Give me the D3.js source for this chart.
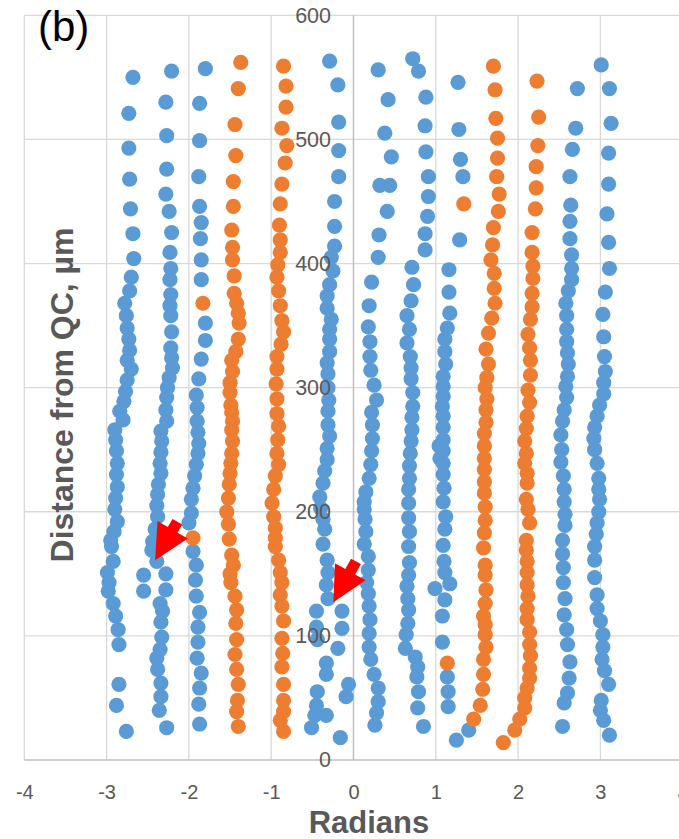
<!DOCTYPE html>
<html>
<head>
<meta charset="utf-8">
<script src="https://cdn.jsdelivr.net/npm/d3@7"></script>
<style>
  html, body { margin: 0; padding: 0; background: #fff; }
  svg { display: block; }
  text { font-family: "Liberation Sans", Arial, sans-serif; }
</style>
</head>
<body>
<svg id="chart" width="679" height="839"></svg>
<script>
// ---- data: [radians, distance (µm)] per track ----
const blueTrack1 = [[-2.68,550],[-2.73,521],[-2.73,493],[-2.72,468],[-2.71,444],[-2.68,424],[-2.67,404],[-2.70,389],
  [-2.72,378],[-2.78,368],[-2.76,358],[-2.75,348],[-2.73,339],[-2.72,330],[-2.75,322],[-2.70,315],[-2.75,306],[-2.77,297],
  [-2.79,289],[-2.84,281],[-2.80,274],[-2.90,266],[-2.89,258],[-2.88,249],[-2.87,239],[-2.88,230],[-2.87,220],[-2.89,211],
  [-2.90,202],[-2.87,192],[-2.91,184],[-2.95,177],[-2.94,172],[-2.92,160],[-2.99,151],[-2.97,143],[-2.98,136],[-2.92,126],
  [-2.89,116],[-2.86,105],[-2.85,93],[-2.85,61],[-2.88,44],[-2.76,23],[-2.55,149],[-2.55,136]];
const blueTrack2 = [[-2.21,555],[-2.28,530],[-2.27,503],[-2.27,476],[-2.28,456],[-2.24,442],[-2.21,425],[-2.23,409],
  [-2.22,396],[-2.23,387],[-2.22,375],[-2.23,366],[-2.22,358],[-2.21,345],[-2.22,332],[-2.21,324],[-2.20,316],[-2.24,308],
  [-2.26,300],[-2.27,292],[-2.28,282],[-2.27,273],[-2.34,265],[-2.33,257],[-2.34,248],[-2.35,239],[-2.34,231],[-2.37,222],
  [-2.38,214],[-2.39,205],[-2.38,196],[-2.41,186],[-2.44,176],[-2.45,169],[-2.39,160],[-2.28,150],[-2.28,137],[-2.35,126],
  [-2.32,120],[-2.34,111],[-2.33,99],[-2.35,89],[-2.39,82],[-2.38,73],[-2.34,62],[-2.34,51],[-2.36,40],[-2.27,26]];
const blueTrack3 = [[-1.80,557],[-1.87,529],[-1.87,499],[-1.88,470],[-1.87,446],[-1.85,433],[-1.86,420],[-1.85,403],
  [-1.85,387],[-1.80,352],[-1.80,338],[-1.85,323],[-1.88,307],[-1.91,294],[-1.90,284],[-1.90,273],[-1.89,264],[-1.88,255],
  [-1.89,247],[-1.91,238],[-1.93,229],[-1.95,219],[-1.97,210],[-1.97,199],[-2.00,191],[-1.95,168],[-1.91,157],[-1.92,145],
  [-1.91,132],[-1.87,119],[-1.89,107],[-1.89,95],[-1.90,82],[-1.85,70],[-1.87,58],[-1.88,45],[-1.87,29]];
const blueTrack4 = [[-0.29,563],[-0.19,544],[-0.18,514],[-0.18,491],[-0.18,470],[-0.23,450],[-0.23,430],[-0.23,414],
  [-0.27,405],[-0.25,394],[-0.29,383],[-0.32,374],[-0.32,364],[-0.27,355],[-0.29,347],[-0.29,339],[-0.29,329],[-0.32,320],
  [-0.31,311],[-0.31,300],[-0.30,290],[-0.31,281],[-0.31,270],[-0.29,261],[-0.32,251],[-0.32,242],[-0.35,233],[-0.37,223],
  [-0.41,212],[-0.40,203],[-0.37,194],[-0.35,186],[-0.37,174],[-0.32,161],[-0.31,151],[-0.33,141],[-0.31,130],
  [-0.45,120],[-0.14,120],[-0.14,106],[-0.45,107],[-0.44,97],[-0.19,90],[-0.33,78],[-0.33,69],[-0.06,61],[-0.09,51],
  [-0.44,55],[-0.45,44],[-0.47,36],[-0.33,36],[-0.51,26],[-0.16,18]];
const blueTrack5 = [[0.30,556],[0.42,532],[0.38,505],[0.46,486],[0.32,463],[0.44,463],[0.41,442],[0.31,423],[0.30,405],
  [0.22,385],[0.19,366],[0.18,349],[0.20,337],[0.20,325],[0.21,314],[0.25,302],[0.28,290],[0.22,280],[0.23,270],[0.23,259],
  [0.22,249],[0.21,238],[0.19,227],[0.15,216],[0.13,208],[0.13,202],[0.14,194],[0.15,184],[0.13,174],[0.18,164],[0.18,153],
  [0.16,143],[0.18,134],[0.19,124],[0.20,113],[0.19,102],[0.19,91],[0.21,81],[0.25,69],[0.30,58],[0.30,47],[0.28,38],[0.26,28]];
const blueTrack6 = [[0.72,565],[0.79,555],[0.88,534],[0.87,511],[0.88,490],[0.91,470],[0.91,454],[0.90,438],[0.87,424],
  [0.87,411],[0.71,397],[0.73,383],[0.70,370],[0.65,358],[0.68,347],[0.65,336],[0.69,325],[0.70,316],[0.70,307],[0.72,296],
  [0.72,285],[0.71,276],[0.71,266],[0.70,257],[0.69,247],[0.68,237],[0.68,227],[0.67,218],[0.67,207],[0.67,195],[0.68,184],
  [0.67,172],[0.68,159],[0.67,149],[0.65,140],[0.66,130],[0.67,121],[0.66,110],[0.64,101],[0.63,90],[0.75,83],[0.78,75],
  [0.77,67],[0.79,55],[0.78,42],[0.85,27]];
const blueTrack7 = [[1.27,546],[1.28,508],[1.30,484],[1.33,470],[1.29,419],[1.16,395],[1.16,377],[1.17,360],[1.14,348],
  [1.11,339],[1.11,329],[1.12,319],[1.09,309],[1.09,301],[1.09,293],[1.08,285],[1.09,277],[1.09,268],[1.09,258],[1.04,253],
  [1.09,249],[1.05,243],[1.09,239],[1.09,230],[1.10,219],[1.09,208],[1.12,196],[1.11,186],[1.09,173],[1.10,160],[1.11,151],
  [1.17,142],[0.99,138],[1.11,129],[1.08,116],[1.08,95],[1.14,67],[1.15,55],[1.15,43],[1.40,24],[1.25,16]];
const blueTrack8 = [[2.72,541],[2.70,509],[2.66,492],[2.63,470],[2.64,447],[2.63,434],[2.63,420],[2.65,407],[2.65,396],
  [2.65,387],[2.61,378],[2.58,368],[2.59,358],[2.59,347],[2.59,337],[2.60,328],[2.61,319],[2.60,309],[2.58,301],[2.59,292],
  [2.56,282],[2.54,273],[2.52,262],[2.53,250],[2.52,240],[2.55,229],[2.56,218],[2.56,208],[2.57,198],[2.57,189],[2.54,177],
  [2.54,166],[2.55,155],[2.55,143],[2.57,130],[2.56,117],[2.59,105],[2.60,93],[2.63,79],[2.62,66],[2.60,54],[2.56,46],[2.54,27]];
const blueTrack9 = [[3.01,560],[3.11,541],[3.13,513],[3.10,489],[3.10,464],[3.08,440],[3.10,417],[3.11,396],[3.06,377],
  [3.03,359],[3.04,341],[3.05,325],[3.06,313],[3.04,304],[3.04,295],[2.99,286],[2.96,277],[2.93,268],[2.92,259],[2.93,250],
  [2.96,239],[2.98,227],[2.98,218],[2.99,210],[2.98,200],[2.96,191],[2.95,182],[2.93,172],[2.93,161],[2.93,147],[2.96,133],
  [2.96,122],[3.00,112],[3.03,101],[3.03,91],[3.02,81],[3.05,72],[3.10,61],[3.01,48],[3.00,40],[3.04,32],[3.11,20]];

const orangeTrack1 = [[-1.37,562],[-1.40,541],[-1.44,512],[-1.43,487],[-1.46,466],[-1.46,446],[-1.48,427],[-1.47,413],
  [-1.47,403],[-1.45,390],[-1.45,376],[-1.42,368],[-1.40,360],[-1.39,352],[-1.40,339],[-1.43,329],[-1.48,322],[-1.47,313],
  [-1.50,304],[-1.50,296],[-1.49,286],[-1.48,280],[-1.47,273],[-1.48,266],[-1.47,257],[-1.48,247],[-1.49,239],[-1.50,231],
  [-1.51,222],[-1.52,211],[-1.54,200],[-1.52,190],[-1.51,178],[-1.48,165],[-1.46,157],[-1.50,150],[-1.49,143],[-1.44,132],
  [-1.42,121],[-1.43,110],[-1.42,97],[-1.44,85],[-1.42,73],[-1.40,61],[-1.41,48],[-1.42,39],[-1.40,27]];
const orangeTrack2 = [[-0.85,559],[-0.82,543],[-0.82,526],[-0.87,509],[-0.81,495],[-0.83,481],[-0.87,464],[-0.89,448],
  [-0.90,431],[-0.89,419],[-0.89,409],[-0.92,399],[-0.93,389],[-0.91,378],[-0.89,366],[-0.87,354],[-0.85,345],[-0.88,335],
  [-0.93,325],[-0.93,315],[-0.94,303],[-0.93,291],[-0.93,279],[-0.91,269],[-0.92,258],[-0.93,247],[-0.91,238],[-0.95,229],
  [-0.97,218],[-0.99,207],[-0.97,196],[-0.95,187],[-0.95,179],[-0.95,172],[-0.91,161],[-0.89,151],[-0.87,143],[-0.89,133],
  [-0.87,124],[-0.85,112],[-0.87,98],[-0.86,86],[-0.87,75],[-0.85,61],[-0.85,48],[-0.85,39],[-0.89,32],[-0.85,23]];
const orangeTrack3 = [[1.70,559],[1.72,540],[1.73,517],[1.75,501],[1.75,485],[1.74,470],[1.77,456],[1.76,442],[1.70,429],
  [1.69,415],[1.67,403],[1.71,392],[1.71,380],[1.72,368],[1.68,356],[1.64,344],[1.61,331],[1.64,319],[1.62,308],[1.60,300],
  [1.62,291],[1.61,282],[1.61,272],[1.59,263],[1.59,253],[1.59,243],[1.59,234],[1.59,224],[1.59,215],[1.60,204],[1.60,193],
  [1.59,183],[1.58,171],[1.60,157],[1.60,149],[1.61,137],[1.60,126],[1.58,116],[1.60,109],[1.60,101],[1.61,91],[1.58,81],
  [1.58,69],[1.57,57],[1.54,44],[1.46,33]];
const orangeTrack4 = [[2.23,547],[2.25,518],[2.24,495],[2.22,478],[2.22,461],[2.21,444],[2.17,425],[2.17,409],[2.18,398],
  [2.18,388],[2.17,376],[2.17,365],[2.15,355],[2.12,343],[2.14,332],[2.15,322],[2.15,310],[2.12,298],[2.14,288],[2.11,277],
  [2.10,267],[2.08,257],[2.10,247],[2.08,239],[2.11,231],[2.11,223],[2.10,210],[2.12,202],[2.14,191],[2.10,177],[2.10,169],
  [2.11,160],[2.11,151],[2.11,141],[2.12,132],[2.11,122],[2.11,113],[2.14,103],[2.14,93],[2.15,84],[2.14,74],[2.14,66],
  [2.11,58],[2.08,50],[2.08,42],[2.02,33],[1.96,24],[1.82,14]];
const orangeStray = [[-1.83,368],[-1.95,179],[1.34,448],[1.14,78]];

// arrow annotations: tail -> tip, in data units
const arrowTails = [[-2.14,192],[0.03,160]];
const arrowTips  = [[-2.41,161],[-0.245,127]];

const xTicks = [-4,-3,-2,-1,0,1,2,3,4];
const yTicks = [0,100,200,300,400,500,600];
const panelLabel = "(b)";
const xTitle = "Radians";
const yTitle = "Distance from QC, µm";

const blueSeries = [blueTrack1, blueTrack2, blueTrack3, blueTrack4, blueTrack5, blueTrack6, blueTrack7, blueTrack8, blueTrack9];
const orangeSeries = [orangeTrack1, orangeTrack2, orangeTrack3, orangeTrack4, orangeStray];

// ---- layout ----
const svg = d3.select("#chart");
const W = 679, H = 839;
svg.append("rect").attr("width", W).attr("height", H).attr("fill", "#fff");

const x = d3.scaleLinear().domain([-4, 4]).range([24.3, 682.7]);
const y = d3.scaleLinear().domain([0, 600]).range([760, 15.3]);

// gridlines
const grid = svg.append("g");
grid.selectAll("line.v").data(xTicks.filter(d => d !== 0)).join("line")
  .attr("x1", d => x(d)).attr("x2", d => x(d))
  .attr("y1", y(0)).attr("y2", y(600))
  .attr("stroke", "#d9d9d9").attr("stroke-width", 1.3);
grid.selectAll("line.h").data(yTicks.filter(d => d !== 0)).join("line")
  .attr("x1", x(-4)).attr("x2", x(4))
  .attr("y1", d => y(d)).attr("y2", d => y(d))
  .attr("stroke", "#d9d9d9").attr("stroke-width", 1.3);

// axis lines through the origin (under the markers)
grid.append("line").attr("x1", x(-4)).attr("x2", x(4)).attr("y1", y(0)).attr("y2", y(0))
  .attr("stroke", "#bfbfbf").attr("stroke-width", 1.5);
grid.append("line").attr("x1", x(0)).attr("x2", x(0)).attr("y1", y(0)).attr("y2", y(600))
  .attr("stroke", "#bfbfbf").attr("stroke-width", 1.5);

// markers
const R = 7.6;
const dots = svg.append("g");
blueSeries.forEach(track => {
  dots.append("g").selectAll("circle").data(track).join("circle")
    .attr("cx", d => x(d[0])).attr("cy", d => y(d[1])).attr("r", R)
    .attr("fill", "#5b9bd5");
});
orangeSeries.forEach(track => {
  dots.append("g").selectAll("circle").data(track).join("circle")
    .attr("cx", d => x(d[0])).attr("cy", d => y(d[1])).attr("r", R)
    .attr("fill", "#ed7d31");
});

// tick labels sit above the markers
const xAxis = svg.append("g").attr("transform", `translate(0,${y(0)})`)
  .call(d3.axisBottom(x).tickValues(xTicks).tickSize(0).tickPadding(25).tickFormat(d => String(d)));
const yAxis = svg.append("g").attr("transform", `translate(${x(0)},0)`)
  .call(d3.axisLeft(y).tickValues(yTicks).tickSize(0).tickPadding(22.5).tickFormat(d => String(d)));
[xAxis, yAxis].forEach(g => {
  g.select(".domain").remove();
  g.selectAll("text").attr("fill", "#595959").attr("font-family", "'Liberation Sans', Arial, sans-serif");
});
xAxis.selectAll("text").attr("font-size", 20);
yAxis.selectAll("text").attr("font-size", 21.5);

// red block arrows
const headLen = 35, headHalf = 17.5, shaftHalf = 5.6;
function arrowPath(tail, tip) {
  const tx = x(tail[0]), ty = y(tail[1]), px = x(tip[0]), py = y(tip[1]);
  const len = Math.hypot(px - tx, py - ty);
  const ux = (px - tx) / len, uy = (py - ty) / len;
  const nx = -uy, ny = ux;
  const bx = px - ux * headLen, by = py - uy * headLen;
  const pts = [
    [tx + nx * shaftHalf, ty + ny * shaftHalf],
    [bx + nx * shaftHalf, by + ny * shaftHalf],
    [bx + nx * headHalf, by + ny * headHalf],
    [px, py],
    [bx - nx * headHalf, by - ny * headHalf],
    [bx - nx * shaftHalf, by - ny * shaftHalf],
    [tx - nx * shaftHalf, ty - ny * shaftHalf]
  ];
  return "M" + pts.map(p => p.join(",")).join("L") + "Z";
}
svg.append("g").selectAll("path").data(d3.zip(arrowTails, arrowTips)).join("path")
  .attr("d", d => arrowPath(d[0], d[1]))
  .attr("fill", "#ff0000");

// titles
svg.append("text").attr("x", 369).attr("y", 833)
  .attr("text-anchor", "middle").attr("font-size", 31).attr("font-weight", "bold")
  .attr("fill", "#595959").text(xTitle);
svg.append("text").attr("transform", "translate(73,395) rotate(-90)")
  .attr("text-anchor", "middle").attr("font-size", 32).attr("font-weight", "bold")
  .attr("fill", "#595959").text(yTitle);
svg.append("text").attr("x", 38).attr("y", 41)
  .attr("font-size", 42).attr("fill", "#000").text(panelLabel);
</script>
</body>
</html>
